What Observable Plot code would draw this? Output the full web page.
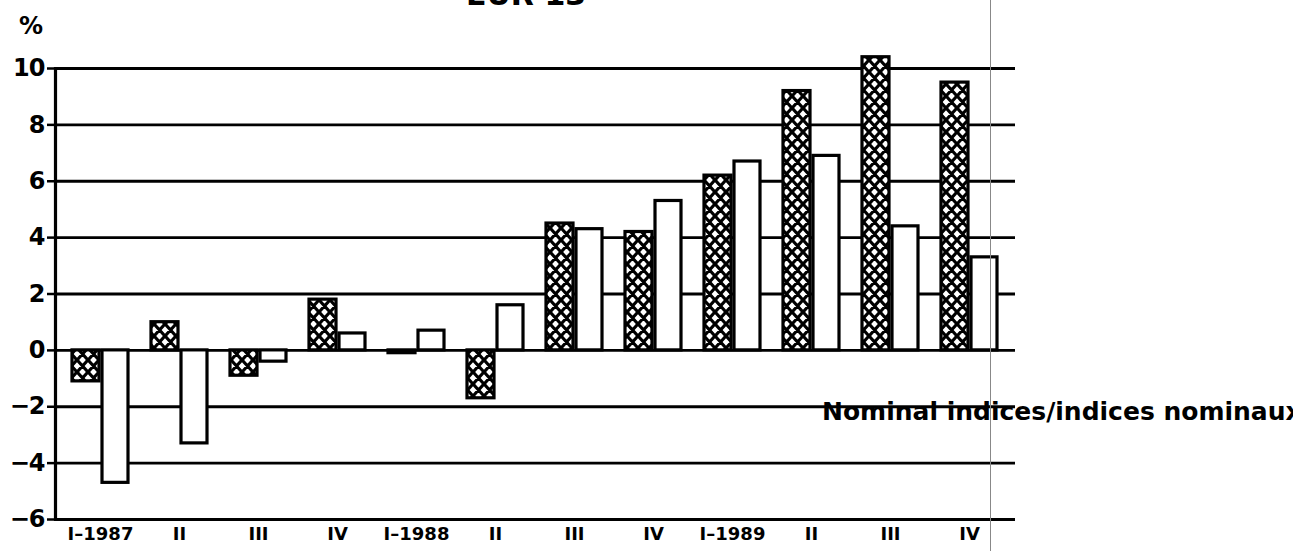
<!DOCTYPE html>
<html><head><meta charset="utf-8">
<script src="https://cdn.jsdelivr.net/npm/d3@7"></script>
<script src="https://cdn.jsdelivr.net/npm/@observablehq/plot@0.6"></script>
<style>
body{margin:0;background:#fff;}
#wrap{position:relative;width:1293px;height:551px;overflow:hidden;font-family:"DejaVu Sans",sans-serif;font-weight:bold;color:#000;}
#wrap svg{position:absolute;left:0;top:0;}
.lbl{position:absolute;white-space:nowrap;line-height:1;}
</style></head><body><div id="wrap"></div>
<script>
const quarters = ["1987Q1","1987Q2","1987Q3","1987Q4","1988Q1","1988Q2","1988Q3","1988Q4","1989Q1","1989Q2","1989Q3","1989Q4"];
const tickLabels = ["I–1987","II","III","IV","I–1988","II","III","IV","I–1989","II","III","IV"];
const hatchedValues = [-1.1, 1.0, -0.9, 1.8, -0.1, -1.7, 4.5, 4.2, 6.2, 9.2, 10.4, 9.5];
const whiteValues = [-4.7, -3.3, -0.4, 0.6, 0.7, 1.6, 4.3, 5.3, 6.7, 6.9, 4.4, 3.3];
const yTicks = [-6, -4, -2, 0, 2, 4, 6, 8, 10];
const titleText = "EUR 13";
const unitText = "%";
const legendText = "Nominal indices/indices nominaux";

const hatched = quarters.map((q, i) => ({q, v: hatchedValues[i]}));
const white = quarters.map((q, i) => ({q, v: whiteValues[i]}));
const labelOf = new Map(quarters.map((q, i) => [q, tickLabels[i]]));

const defs = () => {
  const ns = "http://www.w3.org/2000/svg";
  const d = document.createElementNS(ns, "defs");
  d.innerHTML = `<pattern id="xhatch" patternUnits="userSpaceOnUse" width="11" height="12">
    <rect width="11" height="12" fill="#fff"/>
    <path d="M0,0 L11,12 M11,0 L0,12 M-5.5,6 L0,12 M5.5,-6 L16.5,6 M-5.5,6 L0,0 M5.5,18 L16.5,6" stroke="#000" stroke-width="3.2" fill="none"/>
  </pattern>`;
  return d;
};

const chart = Plot.plot({
  width: 1293,
  height: 551,
  marginLeft: 55,
  marginRight: 278,
  marginTop: 68,
  marginBottom: 32,
  style: {fontFamily: "'DejaVu Sans', sans-serif", fontWeight: "bold", fontSize: "20px", color: "#000", background: "transparent"},
  x: {domain: quarters, paddingInner: 0.2875, paddingOuter: 0.144, align: 0.5, label: null, tickSize: 0, tickPadding: 8, tickFormat: d => labelOf.get(d)},
  y: {domain: [-6, 10], ticks: yTicks, label: null, tickSize: 8, tickPadding: 3, tickFormat: d => d < 0 ? "−" + Math.abs(d) : String(d)},
  marks: [
    defs,
    Plot.ruleY(yTicks, {stroke: "#000", strokeWidth: 2.8}),
    Plot.barY(hatched, {x: "q", y: "v", insetRight: 29, fill: "url(#xhatch)", stroke: "#000", strokeWidth: 3.2}),
    Plot.barY(white, {x: "q", y: "v", insetLeft: 30, fill: "#fff", stroke: "#000", strokeWidth: 3.2}),
    Plot.frame({anchor: "left", stroke: "#000", strokeWidth: 3.2})
  ]
});

const wrap = document.getElementById("wrap");
wrap.appendChild(chart);

const svg = d3.select(chart);
svg.selectAll("[aria-label='y-axis tick label'] text, [aria-label='x-axis tick label'] text").attr("fill", "#000");
svg.select("[aria-label='y-axis tick label']").attr("font-size", 24).attr("letter-spacing", -1);
svg.select("[aria-label='x-axis tick label']").attr("font-size", 18);
svg.select("[aria-label='y-axis tick']").attr("stroke-width", 2.5);

function addLabel(text, left, top, size) {
  const el = document.createElement("div");
  el.className = "lbl";
  el.textContent = text;
  el.style.left = left + "px";
  el.style.top = top + "px";
  el.style.fontSize = size + "px";
  wrap.appendChild(el);
  return el;
}
addLabel(titleText, 466, -20, 30);
addLabel(unitText, 19, 14, 24);
addLabel(legendText, 822, 399, 25);

// thin fold line seen in the scan
const fold = document.createElement("div");
fold.style.cssText = "position:absolute;left:990px;top:0;width:1px;height:551px;background:#888;";
wrap.appendChild(fold);
</script>
</body></html>
